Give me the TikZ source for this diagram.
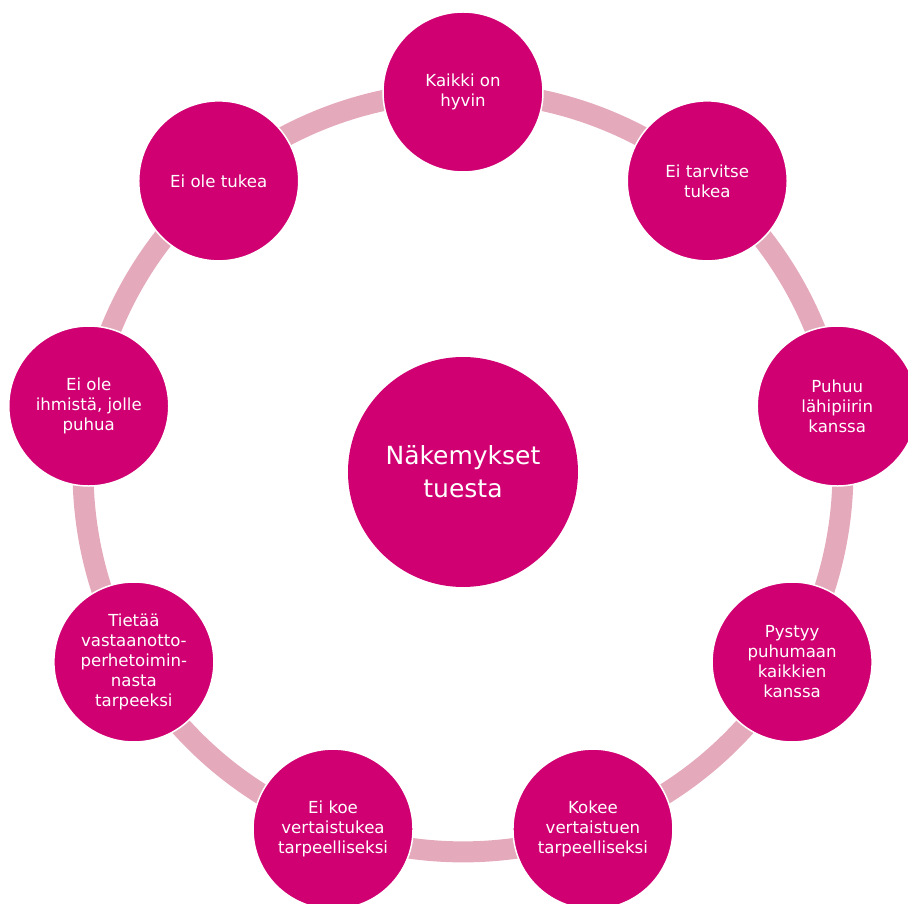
\documentclass[tikz,border=0pt]{standalone}
\usepackage{fontspec}
\setmainfont{DejaVu Sans}
\usetikzlibrary{backgrounds}
\definecolor{pinkfill}{RGB}{208,0,114}
\definecolor{pinkring}{RGB}{228,170,188}
\begin{document}
\begin{tikzpicture}[x=1pt,y=1pt,
		nodes={circle, fill=pinkfill, text=white, align=center, inner sep=0pt},
		outer/.style={draw=white, line width=1.5pt, minimum size=160pt, font=\fontsize{16.6}{20}\selectfont},
		middle/.style={minimum size=230pt, font=\fontsize{25}{33}\selectfont},
		ringarc/.style={pinkring, line width=21pt, bend left=20, looseness=0.877}]
			\useasboundingbox (-463,-432) rectangle (445,472);
			\node (n0) [middle] at (0,0) {Näkemykset\\tuesta};
			\node (n1) [outer] at (90:380) {Kaikki on\\hyvin};
			\node (n2) [outer] at (50:380) {Ei tarvitse\\tukea};
			\node (n3) [outer] at (10:380) {Puhuu\\lähipiirin\\kanssa};
			\node (n4) [outer] at (-30:380) {Pystyy\\puhumaan\\kaikkien\\kanssa};
			\node (n5) [outer] at (-70:380) {Kokee\\vertaistuen\\tarpeelliseksi};
			\node (n6) [outer] at (-110:380) {Ei koe\\vertaistukea\\tarpeelliseksi};
			\node (n7) [outer] at (-150:380) {Tietää\\vastaanotto-\\perhetoimin-\\nasta\\tarpeeksi};
			\node (n8) [outer] at (170:380) {Ei ole\\ihmistä, jolle\\puhua};
			\node (n9) [outer] at (130:380) {Ei ole tukea};
			\begin{scope}[on background layer]
			\draw[ringarc] (n1.center) to (n2.center);
			\draw[ringarc] (n2.center) to (n3.center);
			\draw[ringarc] (n3.center) to (n4.center);
			\draw[ringarc] (n4.center) to (n5.center);
			\draw[ringarc] (n5.center) to (n6.center);
			\draw[ringarc] (n6.center) to (n7.center);
			\draw[ringarc] (n7.center) to (n8.center);
			\draw[ringarc] (n8.center) to (n9.center);
			\draw[ringarc] (n9.center) to (n1.center);
			\end{scope}
		\end{tikzpicture}
\end{document}
